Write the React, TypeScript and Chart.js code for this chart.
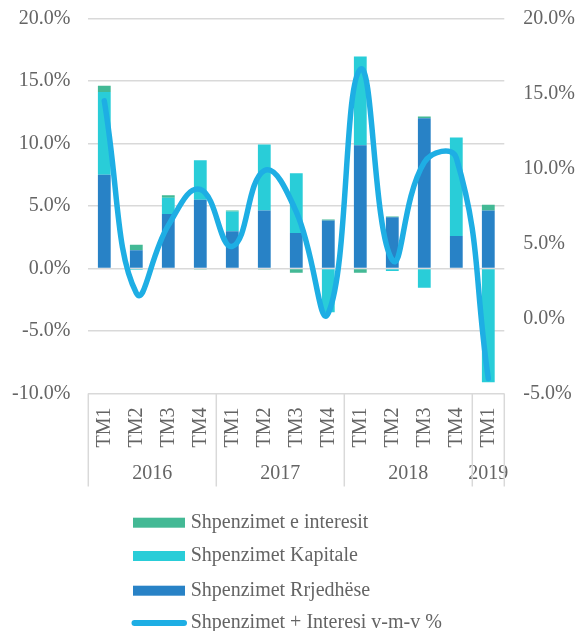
import React, { useEffect, useRef } from "react";
import { Chart, registerables } from "chart.js";

Chart.register(...registerables);

const quarterLabels = ["TM1", "TM2", "TM3", "TM4", "TM1", "TM2", "TM3", "TM4", "TM1", "TM2", "TM3", "TM4", "TM1"];
const yearLabels = ["2016", "2017", "2018", "2019"];
const yearSpans = [4, 4, 4, 1];

const currentSpending = [7.5, 1.45, 4.35, 5.5, 2.98, 4.64, 2.83, 3.84, 9.84, 4.1, 12.0, 2.59, 4.64];
const capitalSpending = [6.6, -0.1, 1.3, 3.15, 1.58, 5.26, 4.79, -3.5, 7.1, -0.2, -1.55, 7.87, -9.1];
const interestSpending = [0.5, 0.45, 0.2, -0.05, 0.08, -0.05, -0.35, 0.08, -0.35, 0.05, 0.14, 0.0, 0.45];
const totalYoY = [14.5, 1.7, 6.2, 8.6, 4.8, 9.85, 7.1, 0.35, 16.6, 3.9, 10.4, 10.7, -4.0];

const seriesNames = [
  "Shpenzimet e interesit",
  "Shpenzimet Kapitale",
  "Shpenzimet Rrjedhëse",
  "Shpenzimet + Interesi v-m-v %",
];

const COLORS = {
  interest: "#43B995",
  capital: "#29CDD8",
  current: "#2882C6",
  line: "#1EAEE4",
  grid: "#D9D9D9",
  text: "#646464",
};

const FONT = "'Liberation Serif', 'Times New Roman', serif";

const groupPlugin = {
  id: "groupAxis",
  afterDraw(chart: any) {
    const ctx = chart.ctx;
    const area = chart.chartArea;
    const x = chart.scales.x;
    const n = quarterLabels.length;
    const step = (area.right - area.left) / n;
    ctx.save();
    ctx.fillStyle = COLORS.text;
    ctx.font = `20px ${FONT}`;
    for (let i = 0; i < n; i++) {
      const cx = x.getPixelForValue(i);
      ctx.save();
      ctx.translate(cx, area.bottom + 14);
      ctx.rotate(-Math.PI / 2);
      ctx.textAlign = "right";
      ctx.textBaseline = "middle";
      ctx.fillText(quarterLabels[i], 0, 0);
      ctx.restore();
    }
    ctx.strokeStyle = COLORS.grid;
    ctx.lineWidth = 1.5;
    let idx = 0;
    const bounds: number[] = [area.left];
    for (let g = 0; g < yearLabels.length; g++) {
      const start = idx;
      idx += yearSpans[g];
      const left = area.left + start * step;
      const right = area.left + idx * step;
      bounds.push(right);
      ctx.textAlign = "center";
      ctx.textBaseline = "middle";
      ctx.fillText(yearLabels[g], (left + right) / 2, area.bottom + 80);
    }
    for (const b of bounds) {
      ctx.beginPath();
      ctx.moveTo(b, area.bottom);
      ctx.lineTo(b, area.bottom + 93);
      ctx.stroke();
    }
    const rows = [514.7, 548, 582.7, 615];
    const boxColors = [COLORS.interest, COLORS.capital, COLORS.current];
    for (let r = 0; r < 4; r++) {
      const y = rows[r];
      if (r < 3) {
        ctx.fillStyle = boxColors[r];
        ctx.fillRect(125, y - 5, 52, 10);
      } else {
        ctx.strokeStyle = COLORS.line;
        ctx.lineWidth = 6;
        ctx.lineCap = "round";
        ctx.beginPath();
        ctx.moveTo(126.5, y);
        ctx.lineTo(176, y);
        ctx.stroke();
      }
      ctx.fillStyle = COLORS.text;
      ctx.textAlign = "left";
      ctx.textBaseline = "middle";
      ctx.fillText(seriesNames[r], 182.7, y);
    }
    ctx.restore();
  },
};

export default function App() {
  const ref = useRef<HTMLCanvasElement>(null);
  useEffect(() => {
    if (!ref.current) return;
    const chart = new Chart(ref.current, {
      type: "bar",
      data: {
        labels: quarterLabels,
        datasets: [
          {
            type: "line",
            label: seriesNames[3],
            data: totalYoY,
            yAxisID: "y2",
            borderColor: COLORS.line,
            backgroundColor: COLORS.line,
            borderWidth: 5.5,
            pointRadius: 0,
            tension: 0.45,
            borderCapStyle: "round",
            order: 0,
          } as any,
          {
            label: seriesNames[2],
            data: currentSpending,
            backgroundColor: COLORS.current,
            yAxisID: "y",
            stack: "s",
            order: 1,
          },
          {
            label: seriesNames[1],
            data: capitalSpending,
            backgroundColor: COLORS.capital,
            yAxisID: "y",
            stack: "s",
            order: 1,
          },
          {
            label: seriesNames[0],
            data: interestSpending,
            backgroundColor: COLORS.interest,
            yAxisID: "y",
            stack: "s",
            order: 1,
          },
        ],
      },
      options: {
        responsive: false,
        animation: false,
        layout: { padding: 0 },
        datasets: { bar: { barPercentage: 0.4, categoryPercentage: 1.0 } },
        plugins: { legend: { display: false }, tooltip: { enabled: false } },
        scales: {
          x: {
            stacked: true,
            grid: { display: false },
            border: { display: false },
            ticks: { display: false },
            afterFit(scale: any) {
              scale.height = 237.5;
            },
          },
          y: {
            position: "left",
            stacked: true,
            min: -10,
            max: 20,
            border: { display: false },
            grid: { color: COLORS.grid, lineWidth: 1.5, drawTicks: false },
            ticks: {
              stepSize: 5,
              padding: 18,
              color: COLORS.text,
              font: { family: FONT, size: 20 },
              callback: (v: any) => Number(v).toFixed(1) + "%",
            },
            afterFit(scale: any) {
              scale.width = 80.3;
              scale.paddingTop = 10.3;
              scale.paddingBottom = 0;
            },
          },
          y2: {
            position: "right",
            min: -5,
            max: 20,
            border: { display: false },
            grid: { display: false, drawTicks: false },
            ticks: {
              stepSize: 5,
              padding: 19,
              color: COLORS.text,
              font: { family: FONT, size: 20 },
              callback: (v: any) => Number(v).toFixed(1) + "%",
            },
            afterFit(scale: any) {
              scale.width = 72.7;
              scale.paddingTop = 10.3;
              scale.paddingBottom = 0;
            },
          },
        },
      },
      plugins: [groupPlugin],
    });
    return () => chart.destroy();
  }, []);
  return (
    <div style={{ width: 569, height: 623 }}>
      <canvas ref={ref} width={569} height={623} style={{ display: "block" }} />
    </div>
  );
}
